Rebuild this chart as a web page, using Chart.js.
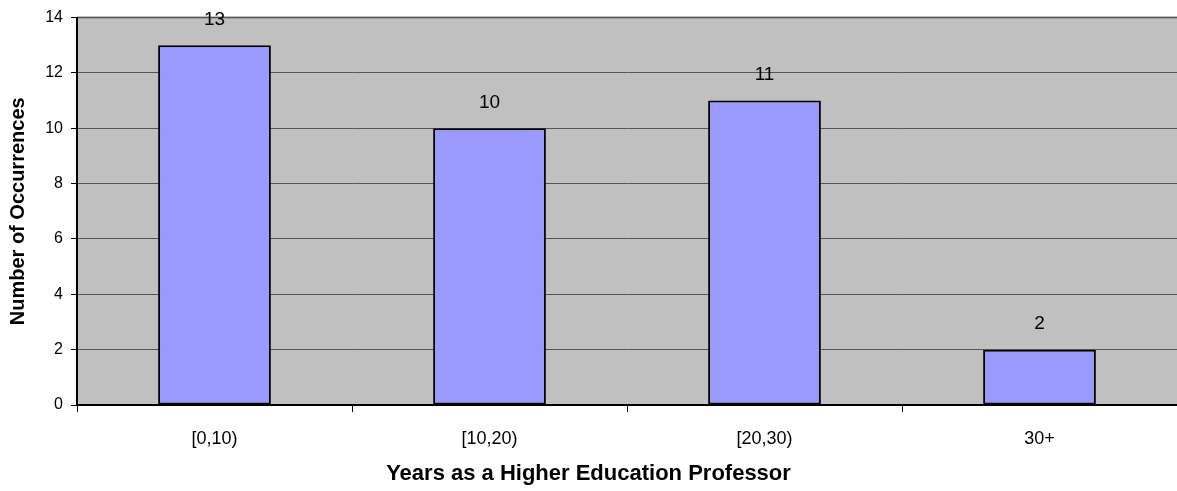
<!DOCTYPE html>
<html>
<head>
<meta charset="utf-8">
<script src="https://cdn.jsdelivr.net/npm/chart.js@4"></script>
<style>
  html, body { margin: 0; padding: 0; background: #fff; }
  #wrap { width: 1177px; height: 491px; }
</style>
</head>
<body>
<div id="wrap"><canvas id="chart"></canvas></div>
<script>
const categories = ["[0,10)", "[10,20)", "[20,30)", "30+"];
const occurrences = [13, 10, 11, 2];
const yTicks = [0, 2, 4, 6, 8, 10, 12, 14];

const FONT = "'Liberation Sans', Arial, sans-serif";

// gray plot background, like the old spreadsheet charts
const plotBackground = {
  id: "plotBackground",
  beforeDraw(chart) {
    const { ctx, chartArea: a } = chart;
    ctx.save();
    ctx.fillStyle = "#C0C0C0";
    ctx.fillRect(a.left, a.top, a.right - a.left, a.bottom - a.top);
    ctx.strokeStyle = "#808080";
    ctx.lineWidth = 2;
    ctx.beginPath();
    ctx.moveTo(a.left, a.top);
    ctx.lineTo(a.right, a.top);
    ctx.stroke();
    ctx.restore();
  }
};

// value labels above the bars
const barLabels = {
  id: "barLabels",
  afterDatasetsDraw(chart) {
    const { ctx } = chart;
    const meta = chart.getDatasetMeta(0);
    ctx.save();
    ctx.fillStyle = "#000";
    ctx.font = "19px " + FONT;
    ctx.textAlign = "center";
    ctx.textBaseline = "middle";
    meta.data.forEach((bar, i) => {
      ctx.fillText(occurrences[i], bar.x, bar.y - 26);
    });
    ctx.restore();
  }
};

new Chart(document.getElementById("chart").getContext("2d"), {
  type: "bar",
  data: {
    labels: categories,
    datasets: [
      {
        data: occurrences,
        backgroundColor: "#9999FF",
        borderColor: "#000",
        borderWidth: 2,
        borderSkipped: false,
        categoryPercentage: 1,
        barPercentage: 0.41
      }
    ]
  },
  options: {
    responsive: true,
    maintainAspectRatio: false,
    animation: false,
    layout: { padding: { top: 17, right: 0, left: 0, bottom: 0 } },
    plugins: {
      legend: { display: false },
      tooltip: { enabled: false },
      // x axis title, centred on the whole picture
      title: {
        display: true,
        position: "bottom",
        text: "Years as a Higher Education Professor",
        color: "#000",
        font: { family: FONT, size: 22, weight: "bold" },
        padding: { top: 0, bottom: 4 }
      }
    },
    scales: {
      x: {
        grid: {
          offset: true,
          drawOnChartArea: false,
          color: "#000",
          tickLength: 7
        },
        border: { color: "#000", width: 2 },
        ticks: {
          color: "#000",
          font: { family: FONT, size: 18 },
          padding: 16
        },
        afterFit(scale) { scale.height = 55.6; }
      },
      y: {
        min: 0,
        max: 14,
        afterBuildTicks(scale) { scale.ticks = yTicks.map(v => ({ value: v })); },
        grid: {
          color: "#555",
          lineWidth: 1,
          tickLength: 6,
          tickColor: "#000"
        },
        border: { color: "#000", width: 2 },
        ticks: {
          color: "#000",
          font: { family: FONT, size: 16 },
          padding: 8
        },
        title: {
          display: true,
          text: "Number of Occurrences",
          color: "#000",
          font: { family: FONT, size: 20, weight: "bold" },
          padding: { top: 6, bottom: 0 }
        },
        afterFit(scale) { scale.width = 77; }
      }
    }
  },
  plugins: [plotBackground, barLabels]
});
</script>
</body>
</html>
